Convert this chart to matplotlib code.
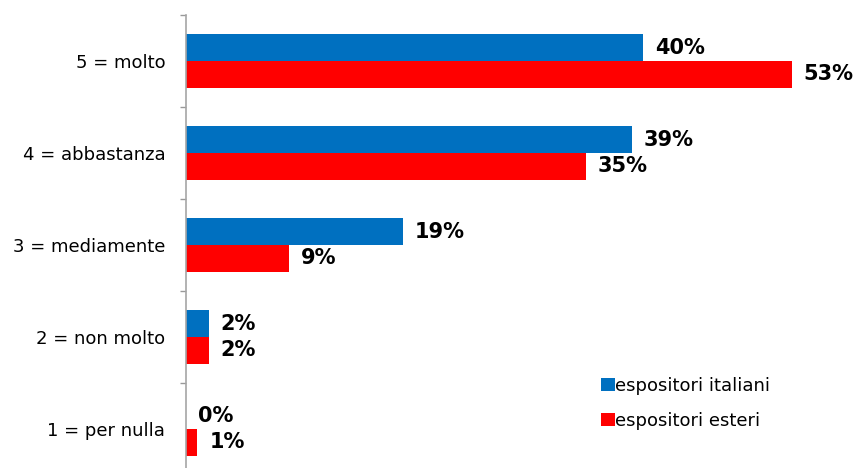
import numpy as np
from matplotlib import pyplot as plt
from matplotlib.ticker import FixedLocator

categories = ["5 = molto", "4 = abbastanza", "3 = mediamente", "2 = non molto", "1 = per nulla"]
italiani = [40, 39, 19, 2, 0]
esteri = [53, 35, 9, 2, 1]
series_names = ["espositori italiani", "espositori esteri"]

BLUE = "#0070C0"
RED = "#FF0000"
W, H = 856, 468

fig = plt.figure(figsize=(W / 100, H / 100), dpi=100)
# axes placed in pixel terms; bottom group runs past the lower edge
ax = fig.add_axes([186 / W, 0, (W - 186) / W, (H - 15) / H])

y = np.arange(len(categories))[::-1]
bar_h = 0.29
ax.barh(y + 0.145, italiani, height=bar_h, color=BLUE, label=series_names[0])
ax.barh(y - 0.145, esteri, height=bar_h, color=RED, label=series_names[1])

ax.set_xlim(0, (W - 186) / 11.43)
ax.set_ylim(-0.5 + 7 / 92, len(categories) - 0.5)

for vals, off in ((italiani, 0.145), (esteri, -0.145)):
    for yi, v in zip(y, vals):
        ax.annotate(f"{v}%", (v, yi + off), xytext=(12, 0), textcoords="offset pixels",
                    ha="left", va="center", fontsize=15, fontweight="bold", color="black")

ax.set_yticks(y)
ax.set_yticklabels(categories, fontsize=13)
ax.yaxis.set_minor_locator(FixedLocator(np.arange(-0.5, len(categories), 1.0)))
ax.tick_params(axis="y", which="major", length=0, pad=15)
ax.tick_params(axis="y", which="minor", length=4.5, color="#999999", width=1)
ax.set_xticks([])

for side in ("top", "right", "bottom"):
    ax.spines[side].set_visible(False)
ax.spines["left"].set_color("#A6A6A6")
ax.spines["left"].set_linewidth(1.2)

ax.legend(loc="upper left", bbox_to_anchor=(592 / W, 1 - 368 / H),
          bbox_transform=fig.transFigure, frameon=False, fontsize=13,
          handlelength=0.75, handleheight=0.75, handletextpad=0.05,
          labelspacing=0.95, borderpad=0)

fig.savefig("out.png", dpi=100)
